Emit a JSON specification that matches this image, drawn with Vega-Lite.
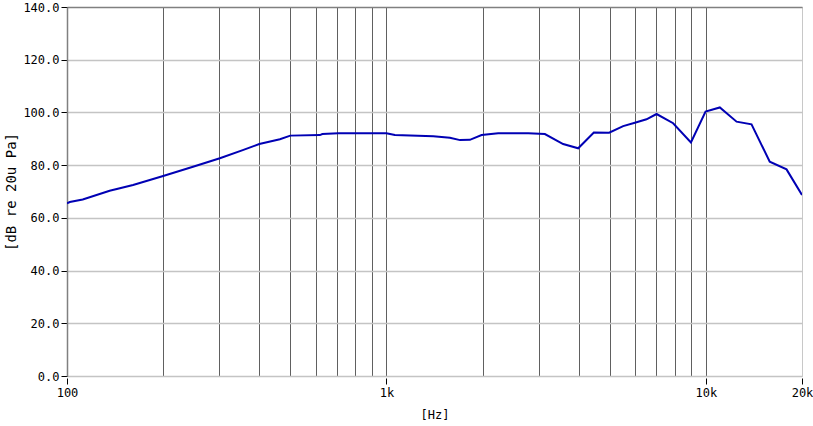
{
  "$schema": "https://vega.github.io/schema/vega-lite/v6.json",
  "width": 735,
  "height": 369,
  "autosize": {"type": "none"},
  "padding": {"left": 67, "top": 7, "right": 11, "bottom": 50},
  "background": "white",
  "config": {
    "view": {"stroke": "#c8c8c8"},
    "font": "DejaVu Sans Mono"
  },
  "data": {
    "values": [
      {"f": 100, "db": 65.5},
      {"f": 102, "db": 66},
      {"f": 112, "db": 67},
      {"f": 136, "db": 70.3},
      {"f": 161, "db": 72.5},
      {"f": 200, "db": 75.9},
      {"f": 248, "db": 79.4},
      {"f": 301, "db": 82.6},
      {"f": 355, "db": 85.7},
      {"f": 400, "db": 88},
      {"f": 464, "db": 89.8},
      {"f": 500, "db": 91.2},
      {"f": 619, "db": 91.4},
      {"f": 630, "db": 91.8},
      {"f": 707, "db": 92.1},
      {"f": 1000, "db": 92.1},
      {"f": 1063, "db": 91.4},
      {"f": 1402, "db": 91},
      {"f": 1580, "db": 90.4},
      {"f": 1700, "db": 89.5},
      {"f": 1825, "db": 89.6},
      {"f": 1986, "db": 91.4},
      {"f": 2238, "db": 92.1},
      {"f": 2780, "db": 92.1},
      {"f": 3134, "db": 91.8},
      {"f": 3575, "db": 88},
      {"f": 3985, "db": 86.4},
      {"f": 4460, "db": 92.4},
      {"f": 4980, "db": 92.3},
      {"f": 5510, "db": 94.8},
      {"f": 5995, "db": 96.1},
      {"f": 6520, "db": 97.4},
      {"f": 7010, "db": 99.4},
      {"f": 7900, "db": 95.9},
      {"f": 8980, "db": 88.6},
      {"f": 9980, "db": 100.3},
      {"f": 11060, "db": 101.9},
      {"f": 12480, "db": 96.5},
      {"f": 13900, "db": 95.5},
      {"f": 15850, "db": 81.3},
      {"f": 17890, "db": 78.4},
      {"f": 20000, "db": 68.7}
    ]
  },
  "mark": {"type": "line", "color": "#0000b4", "strokeWidth": 2, "clip": true},
  "encoding": {
    "x": {
      "field": "f",
      "type": "quantitative",
      "scale": {"type": "log", "domain": [100, 20000], "nice": false},
      "axis": {
        "title": "[Hz]",
        "titleFont": "DejaVu Sans Mono",
        "titleFontSize": 12,
        "titleFontWeight": "normal",
        "titleColor": "#000",
        "titlePadding": 11,
        "values": [100, 200, 300, 400, 500, 600, 700, 800, 900, 1000, 2000, 3000, 4000, 5000, 6000, 7000, 8000, 9000, 10000, 20000],
        "labelExpr": "datum.value == 100 ? '100' : datum.value == 1000 ? '1k' : datum.value == 10000 ? '10k' : datum.value == 20000 ? '20k' : ''",
        "labelFont": "DejaVu Sans Mono",
        "labelFontSize": 12,
        "labelColor": "#000",
        "labelPadding": 3,
        "labelFlush": false,
        "labelOverlap": false,
        "domain": false,
        "grid": true,
        "gridColor": {"condition": {"test": "datum.value == 20000", "value": "#c8c8c8"}, "value": "#606060"},
        "gridOpacity": 1,
        "gridWidth": 1,
        "ticks": true,
        "tickSize": 6,
        "tickOffset": 0,
        "tickColor": "#000",
        "tickOpacity": {"condition": {"test": "datum.value == 100 || datum.value == 1000 || datum.value == 10000 || datum.value == 20000", "value": 1}, "value": 0},
        "offset": 2
      }
    },
    "y": {
      "field": "db",
      "type": "quantitative",
      "scale": {"domain": [0, 140], "nice": false, "zero": true},
      "axis": {
        "title": "[dB re 20u Pa]",
        "titleFont": "DejaVu Sans Mono",
        "titleFontSize": 14,
        "titleFontWeight": "normal",
        "titleColor": "#000",
        "titlePadding": 4,
        "values": [0, 20, 40, 60, 80, 100, 120, 140],
        "format": ".1f",
        "labelFont": "DejaVu Sans Mono",
        "labelFontSize": 12,
        "labelColor": "#000",
        "labelPadding": 2,
        "labelFlush": false,
        "domain": true,
        "domainColor": "#808080",
        "domainWidth": 1.5,
        "grid": true,
        "gridColor": {"condition": {"test": "datum.value == 140", "value": "#808080"}, "value": "#c4c4c4"},
        "gridOpacity": 1,
        "gridWidth": 1.5,
        "tickColor": "#000",
        "tickSize": 6
      }
    }
  }
}
